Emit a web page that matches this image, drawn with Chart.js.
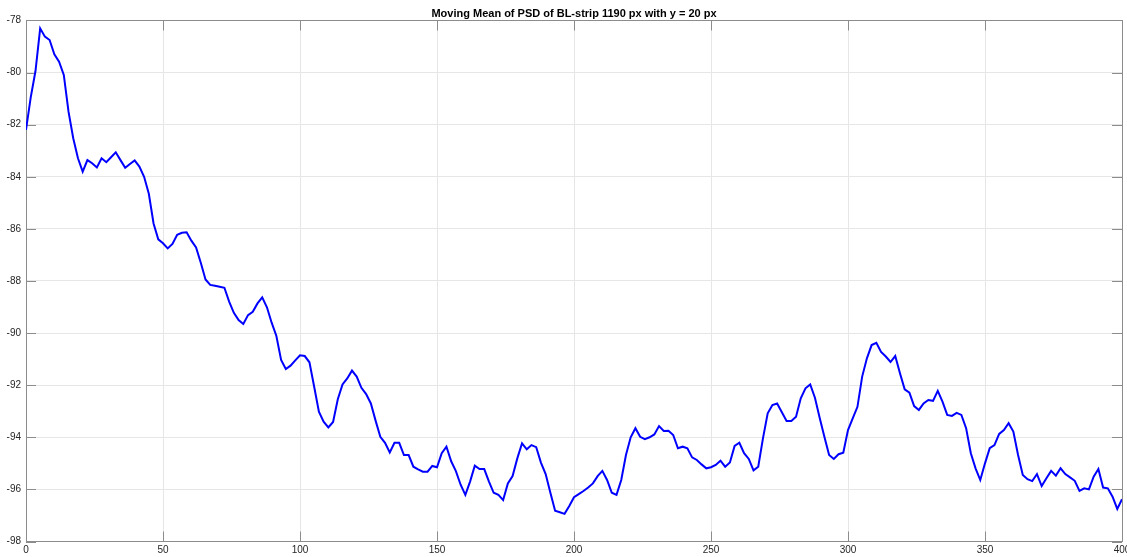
<!DOCTYPE html>
<html>
<head>
<meta charset="utf-8">
<title>Moving Mean of PSD</title>
<script src="https://cdn.jsdelivr.net/npm/chart.js@4.4.1/dist/chart.umd.min.js"></script>
<style>
  html, body { margin: 0; padding: 0; background: #ffffff; overflow: hidden; }
  #wrap { width: 1127px; height: 557px; }
</style>
</head>
<body>
<div id="wrap"><canvas id="psd" width="1127" height="557"></canvas></div>
<script>
// Moving mean of the power spectral density (dB), sampled on a uniform grid over 0..400
const titleText = 'Moving Mean of PSD of BL-strip 1190 px with y = 20 px';
const sampleCount = 233;
const sampleSpacing = 400 / (sampleCount - 1);

const psdMean = [
  -82.20, -80.95, -79.95, -78.30, -78.62, -78.75, -79.30, -79.58, -80.09, -81.50,
  -82.52, -83.29, -83.80, -83.36, -83.48, -83.64, -83.29, -83.44, -83.25, -83.06,
  -83.36, -83.65, -83.51, -83.37, -83.61, -84.00, -84.65, -85.79, -86.40, -86.55,
  -86.75, -86.58, -86.23, -86.15, -86.13, -86.45, -86.71, -87.30, -87.94, -88.15,
  -88.18, -88.22, -88.26, -88.79, -89.22, -89.50, -89.65, -89.31, -89.18, -88.86,
  -88.63, -89.01, -89.60, -90.11, -91.03, -91.38, -91.25, -91.05, -90.85, -90.88,
  -91.12, -92.06, -93.02, -93.40, -93.62, -93.41, -92.54, -91.97, -91.74, -91.44,
  -91.67, -92.10, -92.34, -92.70, -93.36, -93.98, -94.21, -94.58, -94.21, -94.21,
  -94.68, -94.68, -95.13, -95.23, -95.32, -95.32, -95.10, -95.15, -94.61, -94.36,
  -94.92, -95.30, -95.82, -96.21, -95.70, -95.09, -95.22, -95.22, -95.70, -96.13,
  -96.21, -96.41, -95.77, -95.49, -94.81, -94.23, -94.46, -94.30, -94.38, -94.97,
  -95.41, -96.13, -96.82, -96.88, -96.94, -96.64, -96.30, -96.18, -96.06, -95.93,
  -95.77, -95.49, -95.29, -95.64, -96.13, -96.21, -95.64, -94.68, -94.00, -93.65,
  -93.98, -94.07, -94.00, -93.89, -93.57, -93.76, -93.75, -93.91, -94.42, -94.36,
  -94.42, -94.77, -94.87, -95.04, -95.19, -95.15, -95.06, -94.90, -95.13, -94.97,
  -94.33, -94.21, -94.61, -94.83, -95.27, -95.13, -94.04, -93.08, -92.76, -92.70,
  -93.04, -93.37, -93.37, -93.21, -92.50, -92.12, -91.97, -92.48, -93.25, -93.98,
  -94.68, -94.83, -94.65, -94.59, -93.72, -93.27, -92.83, -91.67, -90.97, -90.46,
  -90.37, -90.72, -90.90, -91.11, -90.88, -91.54, -92.16, -92.29, -92.80, -92.95,
  -92.70, -92.57, -92.60, -92.22, -92.63, -93.14, -93.18, -93.06, -93.14, -93.65,
  -94.61, -95.19, -95.64, -95.00, -94.42, -94.30, -93.87, -93.72, -93.46, -93.78,
  -94.68, -95.45, -95.61, -95.68, -95.41, -95.87, -95.57, -95.29, -95.47, -95.19,
  -95.41, -95.54, -95.67, -96.06, -95.96, -96.00, -95.51, -95.22, -95.93, -95.96,
  -96.28, -96.75, -96.38
];

const xTicks = [0, 50, 100, 150, 200, 250, 300, 350, 400];
const yTicks = [-98, -96, -94, -92, -90, -88, -86, -84, -82, -80, -78];

const points = psdMean.map((v, i) => ({ x: i * sampleSpacing, y: v }));

const AXIS_COLOR = '#8c8c8c';
const GRID_COLOR = '#e6e6e6';
const TEXT_COLOR = '#262626';
const FONT_FAMILY = '"Liberation Sans", Arial, Helvetica, sans-serif';
const TICK_LEN = 10;

// Axes box with inward tick marks on all four sides
const axesBox = {
  id: 'axesBox',
  beforeDatasetsDraw(chart) {
    const { ctx, chartArea: a, scales } = chart;
    ctx.save();
    ctx.strokeStyle = AXIS_COLOR;
    ctx.lineWidth = 1;
    ctx.beginPath();
    xTicks.forEach(t => {
      const px = Math.round(scales.x.getPixelForValue(t)) + 0.5;
      ctx.moveTo(px, a.bottom); ctx.lineTo(px, a.bottom - TICK_LEN);
      ctx.moveTo(px, a.top); ctx.lineTo(px, a.top + TICK_LEN);
    });
    yTicks.forEach(t => {
      const py = Math.round(scales.y.getPixelForValue(t)) + 0.5;
      ctx.moveTo(a.left, py); ctx.lineTo(a.left + TICK_LEN, py);
      ctx.moveTo(a.right, py); ctx.lineTo(a.right - TICK_LEN, py);
    });
    ctx.stroke();
    ctx.strokeRect(Math.round(a.left) + 0.5, Math.round(a.top) + 0.5,
                   Math.round(a.right - a.left), Math.round(a.bottom - a.top));
    ctx.restore();
  }
};

new Chart(document.getElementById('psd'), {
  type: 'line',
  data: {
    datasets: [{
      data: points,
      borderColor: '#0000ff',
      borderWidth: 2,
      pointRadius: 0,
      tension: 0,
      fill: false
    }]
  },
  options: {
    responsive: false,
    animation: false,
    devicePixelRatio: 1,
    layout: { padding: { left: 0, right: 5, top: 0, bottom: 0 } },
    plugins: {
      legend: { display: false },
      tooltip: { enabled: false },
      title: {
        display: true,
        fullSize: false,
        text: titleText,
        color: '#000000',
        font: { family: FONT_FAMILY, size: 11, weight: 'bold', lineHeight: 1.227 },
        padding: { top: 7, bottom: 0 }
      }
    },
    scales: {
      x: {
        type: 'linear',
        min: 0,
        max: 400,
        afterBuildTicks: s => { s.ticks = xTicks.map(v => ({ value: v })); },
        afterFit: s => { s.height = 15.5; s.paddingLeft = 0; s.paddingRight = 0; },
        ticks: {
          color: TEXT_COLOR,
          font: { family: FONT_FAMILY, size: 10 },
          padding: 3,
          maxRotation: 0,
          autoSkip: false
        },
        grid: { color: GRID_COLOR, drawTicks: false, lineWidth: 1 },
        border: { display: false }
      },
      y: {
        type: 'linear',
        min: -98,
        max: -78,
        afterBuildTicks: s => { s.ticks = yTicks.map(v => ({ value: v })); },
        afterFit: s => { s.width = 26; s.paddingTop = 0; s.paddingBottom = 0; },
        ticks: {
          color: TEXT_COLOR,
          font: { family: FONT_FAMILY, size: 10 },
          padding: 5,
          autoSkip: false
        },
        grid: { color: GRID_COLOR, drawTicks: false, lineWidth: 1 },
        border: { display: false }
      }
    }
  },
  plugins: [axesBox]
});
</script>
</body>
</html>
